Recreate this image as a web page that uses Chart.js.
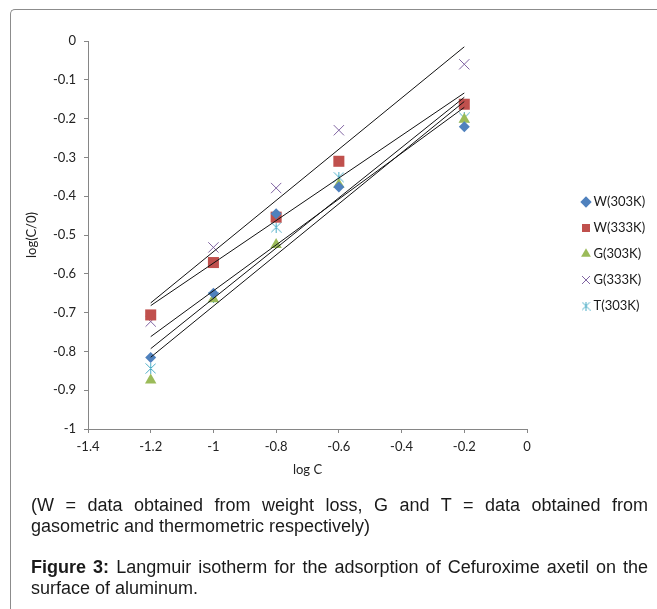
<!DOCTYPE html>
<html>
<head>
<meta charset="utf-8">
<script src="https://cdn.jsdelivr.net/npm/chart.js@4.4.1/dist/chart.umd.min.js"></script>
<style>
  html, body { margin: 0; padding: 0; background: #fff; }
  body { width: 657px; height: 609px; position: relative; overflow: hidden; }
  #frame {
    position: absolute; left: 10px; top: 9px; width: 720px; height: 700px;
    border-top: 1px solid #8c8c8c; border-left: 1px solid #8c8c8c;
    border-top-left-radius: 5px;
  }
  #chart { position: absolute; left: 0; top: 0; }
  #caption {
    position: absolute; left: 31px; top: 495px; width: 617px;
    font-family: "Liberation Sans", Arial, sans-serif; font-size: 18px;
    line-height: 21px; color: #1a1a1a; text-align: justify;
  }
  #caption p { margin: 0 0 20px 0; }
</style>
</head>
<body>
<div id="frame"></div>
<canvas id="chart" width="657" height="508"></canvas>
<div id="caption">
  <p>(W = data obtained from weight loss, G and T = data obtained from gasometric and thermometric respectively)</p>
  <p><b>Figure 3:</b> Langmuir isotherm for the adsorption of Cefuroxime axetil on the surface of aluminum.</p>
</div>
<script>
// values
const logC = [-1.2, -1.0, -0.8, -0.6, -0.2];
const w303 = [-0.816, -0.650, -0.445, -0.376, -0.221];
const w333 = [-0.706, -0.571, -0.454, -0.310, -0.163];
const g303 = [-0.874, -0.665, -0.525, -0.370, -0.202];
const g333 = [-0.723, -0.532, -0.379, -0.230, -0.060];
const t303 = [-0.844, -0.662, -0.480, -0.351, -0.198];
const seriesNames = ['W(303K)', 'W(333K)', 'G(303K)', 'G(333K)', 'T(303K)'];

// trendline ends (at log C = -1.2 and -0.2)
const fitX = [-1.2, -0.2];
const fitW303 = [-0.762, -0.171];
const fitW333 = [-0.682, -0.134];
const fitG303 = [-0.815, -0.156];
const fitG333 = [-0.675, -0.015];
const fitT303 = [-0.793, -0.145];

const xRange = [-1.4, 0];
const yRange = [-1, 0];

const FONT = 'Lato, "Open Sans", sans-serif';

// Excel-like asterisk marker (X with a vertical stroke)
function asterisk(size, color) {
    const c = document.createElement('canvas');
    c.width = size; c.height = size;
    const g = c.getContext('2d');
    g.strokeStyle = color;
    g.lineWidth = 1;
    g.beginPath();
    g.moveTo(0.5, 0.5); g.lineTo(size - 0.5, size - 0.5);
    g.moveTo(size - 0.5, 0.5); g.lineTo(0.5, size - 0.5);
    g.moveTo(size / 2, 0); g.lineTo(size / 2, size);
    g.stroke();
    return c;
}
const starBig = asterisk(11, '#4BACC6');
const starSmall = asterisk(9, '#4BACC6');

const pts = ys => logC.map((x, i) => ({ x: x, y: ys[i] }));
const fit = ys => fitX.map((x, i) => ({ x: x, y: ys[i] }));

const markerSets = [
    { label: seriesNames[0], data: pts(w303), pointStyle: 'rectRot', pointRadius: 5.5, backgroundColor: '#4F81BD', borderColor: '#4F81BD', borderWidth: 0 },
    { label: seriesNames[1], data: pts(w333), pointStyle: 'rect', pointRadius: 7.8, backgroundColor: '#C0504D', borderColor: '#C0504D', borderWidth: 0 },
    { label: seriesNames[2], data: pts(g303), pointStyle: 'triangle', pointRadius: 6.6, backgroundColor: '#9BBB59', borderColor: '#9BBB59', borderWidth: 0 },
    { label: seriesNames[3], data: pts(g333), pointStyle: 'crossRot', pointRadius: 7.3, backgroundColor: '#8064A2', borderColor: '#8064A2', borderWidth: 1 },
    { label: seriesNames[4], data: pts(t303), pointStyle: starBig, pointRadius: 6, backgroundColor: '#4BACC6', borderColor: '#4BACC6', borderWidth: 1 }
];
markerSets.forEach(d => { d.showLine = false; d.pointHoverRadius = d.pointRadius; d.order = 1; });

const fitSets = [fitW303, fitW333, fitG303, fitG333, fitT303].map(ys => ({
    label: 'fit',
    data: fit(ys),
    showLine: true,
    borderColor: '#111',
    borderWidth: 1,
    pointRadius: 0,
    order: 0
}));

const axisGrey = '#868686';

// the plot area is pushed in from the right, so move the legend box out to where Excel puts it
const legendShift = {
    id: 'legendShift',
    afterLayout(chart) {
        const lg = chart.legend;
        const w = lg.right - lg.left;
        lg.left = 572;
        lg.right = lg.left + w;
    }
};

new Chart(document.getElementById('chart'), {
    type: 'scatter',
    data: { datasets: markerSets.concat(fitSets) },
    plugins: [legendShift],
    options: {
        responsive: false,
        animation: false,
        layout: { padding: { top: 0, right: 2, bottom: 0, left: 0 } },
        scales: {
            x: {
                type: 'linear',
                min: xRange[0], max: xRange[1],
                ticks: { stepSize: 0.2, padding: 6, color: '#222', font: { family: FONT, size: 13 },
                    callback: v => String(+v.toFixed(1)) },
                grid: { drawOnChartArea: false, drawTicks: true, tickLength: 4, color: axisGrey },
                border: { color: axisGrey },
                title: { display: true, text: 'log C', color: '#222', font: { family: FONT, size: 13 }, padding: { top: 0, bottom: 30 } },
                afterFit: s => { s.height = 79; s.paddingRight = 130; }
            },
            y: {
                type: 'linear',
                min: yRange[0], max: yRange[1],
                ticks: { stepSize: 0.1, padding: 8, color: '#222', font: { family: FONT, size: 13 },
                    callback: v => String(+v.toFixed(1)) },
                grid: { drawOnChartArea: false, drawTicks: true, tickLength: 4, color: axisGrey },
                border: { color: axisGrey },
                title: { display: true, text: 'log(C/0)', color: '#222', font: { family: FONT, size: 13 }, padding: { top: 24, bottom: 0 } },
                afterFit: s => { s.width = 88; s.paddingTop = 41; }
            }
        },
        plugins: {
            tooltip: { enabled: false },
            legend: {
                position: 'right',
                align: 'center',
                labels: {
                    usePointStyle: true,
                    boxWidth: 2,
                    boxHeight: 8,
                    padding: 13,
                    color: '#1a1a1a',
                    font: { family: FONT, size: 13 },
                    generateLabels: chart => Chart.defaults.plugins.legend.labels.generateLabels(chart)
                        .filter(item => item.datasetIndex < markerSets.length)
                        .map(item => {
                            if (item.pointStyle === starBig) item.pointStyle = starSmall;
                            return item;
                        })
                }
            }
        }
    }
});
</script>
</body>
</html>
